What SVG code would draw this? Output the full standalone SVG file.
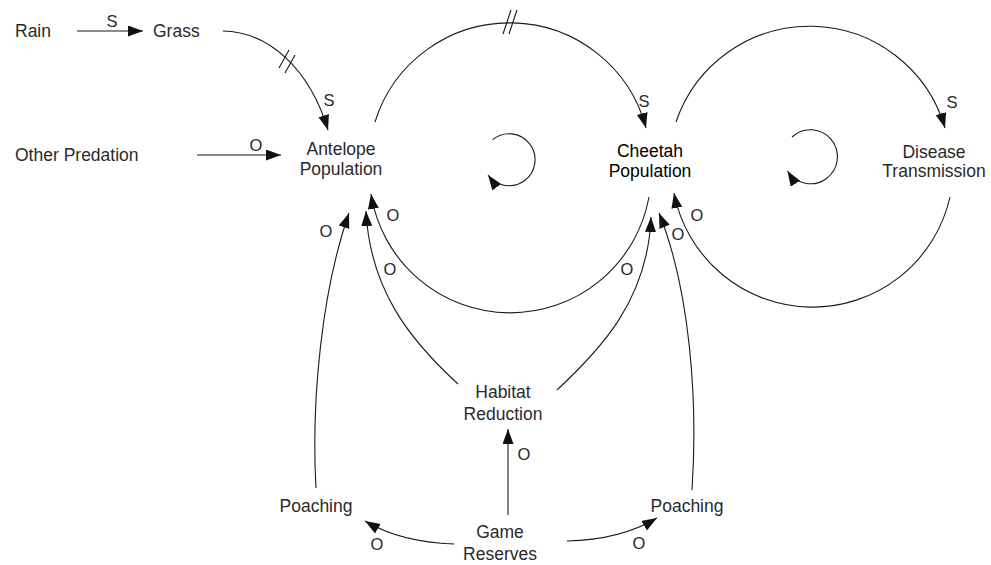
<svg xmlns="http://www.w3.org/2000/svg" width="991" height="565" viewBox="0 0 991 565">
<style>
text{font-family:"Liberation Sans",Arial,sans-serif;font-size:17.5px;fill:#2a2a2a}
.n{text-anchor:middle}
.b{fill:#000}
.lab{font-size:16.5px;text-anchor:middle}
.c{fill:none;stroke:#1a1a1a;stroke-width:1.1}
.ca{fill:none;stroke:#1a1a1a;stroke-width:1.1;marker-end:url(#ah)}
</style>
<defs>
<marker id="ah" markerUnits="userSpaceOnUse" markerWidth="16" markerHeight="12" refX="15" refY="5.5" orient="auto">
<path d="M0,0 L15,5.5 L0,11 z" fill="#111"/>
</marker>
</defs>
<rect width="991" height="565" fill="#fff"/>
<g id="connectors">
<path class="ca" d="M77,31 L143,31"/>
<path class="ca" d="M197,155 L281,155"/>
<path class="ca" d="M223,31 C270,32 310,70 328,130"/>
<path class="c" d="M279,68 L289,50 M285,73 L295,55"/>
<path class="ca" d="M375,122 A141,141 0 0 1 646,128"/>
<path class="c" d="M503,34 L511,10 M509,34 L517,10"/>
<path class="ca" d="M649,197 A141,141 0 0 1 371,194"/>
<path class="ca" d="M676,122 A141,141 0 0 1 945,128"/>
<path class="ca" d="M950,197 A141,141 0 0 1 674,193"/>
<path class="ca" d="M492.6,139.6 A26,26 0 1 1 488,175"/>
<path class="ca" d="M792,137 A27,27 0 1 1 787.5,171"/>
<path class="ca" d="M316,488 C311,400 322,290 349,213"/>
<path class="ca" d="M458,384 C410,340 370,290 366,211"/>
<path class="ca" d="M557,390 C600,350 648,300 651,217"/>
<path class="ca" d="M692,490 C698,400 690,290 659,213"/>
<path class="ca" d="M508,515 L508,429"/>
<path class="ca" d="M454,544 Q400,542 365,521"/>
<path class="ca" d="M567,541 Q620,540 657,518"/>
</g>
<g id="labels">
<text class="lab" x="112" y="27">S</text>
<text class="lab" x="256" y="151">O</text>
<text class="lab" x="329" y="106">S</text>
<text class="lab" x="644" y="107">S</text>
<text class="lab" x="952" y="108">S</text>
<text class="lab" x="524" y="460">O</text>
<text class="lab" x="377" y="550">O</text>
<text class="lab" x="639" y="549">O</text>
<text class="lab" x="326" y="237">O</text>
<text class="lab" x="393" y="221">O</text>
<text class="lab" x="390" y="275">O</text>
<text class="lab" x="627" y="275">O</text>
<text class="lab" x="678" y="240">O</text>
<text class="lab" x="697" y="221">O</text>
</g>
<g id="rain"><text x="15" y="37">Rain</text></g>
<g id="grass"><text x="153" y="37">Grass</text></g>
<g id="other-predation"><text x="15" y="161">Other Predation</text></g>
<g id="antelope"><text class="n" x="341" y="155">Antelope</text><text class="n" x="341" y="175">Population</text></g>
<g id="cheetah"><text class="n b" x="650" y="157">Cheetah</text><text class="n b" x="650" y="177">Population</text></g>
<g id="disease"><text class="n" x="934" y="158">Disease</text><text class="n" x="934" y="177">Transmission</text></g>
<g id="habitat"><text class="n" x="503" y="398">Habitat</text><text class="n" x="503" y="420">Reduction</text></g>
<g id="poaching-left"><text class="n" x="316" y="512">Poaching</text></g>
<g id="poaching-right"><text class="n" x="687" y="512">Poaching</text></g>
<g id="game-reserves"><text class="n" x="500" y="538">Game</text><text class="n" x="500" y="560">Reserves</text></g>
</svg>
